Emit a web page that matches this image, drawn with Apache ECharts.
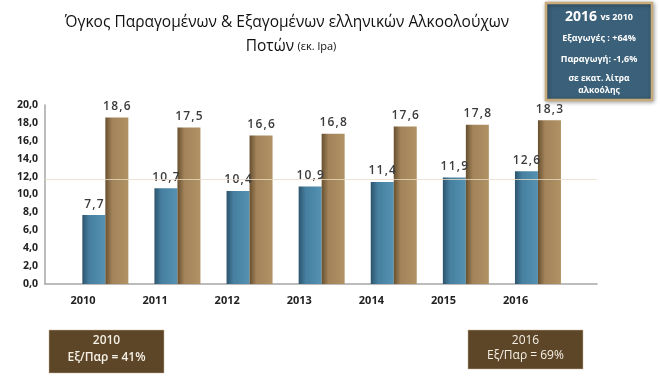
<!DOCTYPE html>
<html><head><meta charset="utf-8">
<script src="https://cdn.jsdelivr.net/npm/echarts@6/dist/echarts.min.js"></script>
<style>html,body{margin:0;padding:0;background:#fff}#c{width:660px;height:377px}</style>
</head><body><div id="c"></div>
<script>
const years = ['2010','2011','2012','2013','2014','2015','2016'];
const exportsVals = [7.7, 10.7, 10.4, 10.9, 11.4, 11.9, 12.6];
const productionVals = [18.6, 17.5, 16.6, 16.8, 17.6, 17.8, 18.3];
const yTicks = [0, 2, 4, 6, 8, 10, 12, 14, 16, 18, 20];
const titleLine1 = 'Όγκος Παραγομένων & Εξαγομένων ελληνικών Αλκοολούχων';
const titleLine2 = 'Ποτών';
const titleUnit = '(εκ. lpa)';
const boxTitle = '2016';
const boxTitleSub = 'vs 2010';
const boxLines = ['Εξαγωγές : +64%', 'Παραγωγή: -1,6%', 'σε εκατ. λίτρα', 'αλκοόλης'];
const ratio2010 = ['2010', 'Εξ/Παρ = 41%'];
const ratio2016 = ['2016', 'Εξ/Παρ = 69%'];

const FONT = '"Open Sans", "Noto Sans", sans-serif';
const groupShift = 0.31; // bars sit to the right of each year label
const fmt = v => v.toFixed(1).replace('.', ',');

function grad(stops) {
  return new echarts.graphic.LinearGradient(0, 0, 1, 0, stops.map(c => ({offset: c[0], color: c[1]})));
}
const blueGrad = grad([[0, '#2c546d'], [0.3, '#467f9f'], [1, '#5592b3']]);
const brownGrad = grad([[0, '#67502f'], [0.3, '#a3835a'], [1, '#b09264']]);

const labelCommon = {
  show: true, position: 'top', distance: 5, color: '#3c3c3c',
  fontFamily: FONT, fontSize: 12, fontWeight: 600,
  formatter: p => fmt(p.value[1]).split('').join('\u200A')
};

const chart = echarts.init(document.getElementById('c'), null, {renderer: 'canvas'});
chart.setOption({
  animation: false,
  backgroundColor: '#ffffff',
  grid: {left: 45, right: 63, top: 105, bottom: 93, containLabel: false},
  xAxis: {
    type: 'value', min: -0.527, max: 7.129,
    splitLine: {show: false},
    axisLine: {show: true, onZero: false, lineStyle: {color: '#a6a6a6', width: 1.5}},
    axisTick: {show: false},
    axisLabel: {
      customValues: years.map((y, i) => i),
      formatter: v => years[Math.round(v)] || '',
      color: '#222', fontFamily: FONT, fontWeight: 'bold', fontSize: 11, margin: 11
    }
  },
  yAxis: {
    type: 'value', min: yTicks[0], max: yTicks[yTicks.length - 1], interval: yTicks[1] - yTicks[0],
    splitLine: {show: false},
    axisLine: {show: true, onZero: false, lineStyle: {color: '#a6a6a6', width: 1.5}},
    axisTick: {show: false},
    axisLabel: {formatter: v => fmt(v), color: '#222', fontFamily: FONT, fontWeight: 'bold', fontSize: 10.5, margin: 7}
  },
  series: [
    {
      type: 'bar', name: 'exports', barWidth: 23, barGap: '0%',
      data: exportsVals.map((v, i) => [i + groupShift, v]),
      itemStyle: {color: blueGrad},
      label: labelCommon,
      z: 2
    },
    {
      type: 'bar', name: 'production', barWidth: 23, barGap: '0%',
      data: productionVals.map((v, i) => [i + groupShift, v]),
      itemStyle: {color: brownGrad},
      label: labelCommon,
      z: 2,
      markLine: {
        silent: true, symbol: 'none', label: {show: false},
        lineStyle: {color: '#e8dcc6', width: 1, type: 'solid', opacity: 0.8},
        data: [{yAxis: 11.7}], z: 5
      }
    }
  ],
  graphic: [
    {type: 'text', x: 287, y: 23, style: {text: titleLine1, align: 'center', verticalAlign: 'middle', fill: '#111', font: '15.5px ' + FONT}},
    {type: 'text', x: 291, y: 47, style: {
      text: '{a|' + titleLine2 + '} {b|' + titleUnit + '}', align: 'center', verticalAlign: 'middle',
      rich: {a: {font: '15.5px ' + FONT, fill: '#111'}, b: {font: '11px ' + FONT, fill: '#111'}}
    }},
    {type: 'rect', shape: {x: 546, y: 3, width: 106, height: 97},
      style: {fill: '#3b6079', stroke: '#c9aa7a', lineWidth: 2.5, shadowBlur: 4, shadowColor: 'rgba(0,0,0,0.35)', shadowOffsetX: 1, shadowOffsetY: 1}},
    {type: 'text', x: 599, y: 17, style: {
      text: '{a|' + boxTitle + '} {b|' + boxTitleSub + '}', align: 'center', verticalAlign: 'middle',
      rich: {a: {font: 'bold 14px ' + FONT, fill: '#fff'}, b: {font: 'bold 9px ' + FONT, fill: '#fff'}}
    }},
    {type: 'text', x: 599, y: 38, style: {text: boxLines[0], align: 'center', verticalAlign: 'middle', fill: '#fff', font: 'bold 9px ' + FONT}},
    {type: 'text', x: 599, y: 59, style: {text: boxLines[1], align: 'center', verticalAlign: 'middle', fill: '#fff', font: 'bold 9px ' + FONT}},
    {type: 'text', x: 599, y: 79, style: {text: boxLines[2], align: 'center', verticalAlign: 'middle', fill: '#fff', font: 'bold 8.5px ' + FONT}},
    {type: 'text', x: 599, y: 91, style: {text: boxLines[3], align: 'center', verticalAlign: 'middle', fill: '#fff', font: 'bold 8.5px ' + FONT}},
    {type: 'rect', shape: {x: 49, y: 330, width: 115, height: 43}, style: {fill: '#5d4527', stroke: '#c9b79a', lineWidth: 0.5}},
    {type: 'text', x: 106.5, y: 341, style: {text: ratio2010[0], align: 'center', verticalAlign: 'middle', fill: '#f5f0e6', font: '600 12px ' + FONT}},
    {type: 'text', x: 106.5, y: 358, style: {text: ratio2010[1], align: 'center', verticalAlign: 'middle', fill: '#f5f0e6', font: '600 12px ' + FONT}},
    {type: 'rect', shape: {x: 468, y: 330, width: 115, height: 39}, style: {fill: '#5d4527', stroke: '#c9b79a', lineWidth: 0.5}},
    {type: 'text', x: 525.5, y: 341, style: {text: ratio2016[0], align: 'center', verticalAlign: 'middle', fill: '#f5f0e6', font: '12px ' + FONT}},
    {type: 'text', x: 525.5, y: 356, style: {text: ratio2016[1], align: 'center', verticalAlign: 'middle', fill: '#f5f0e6', font: '12px ' + FONT}}
  ]
});
</script></body></html>
